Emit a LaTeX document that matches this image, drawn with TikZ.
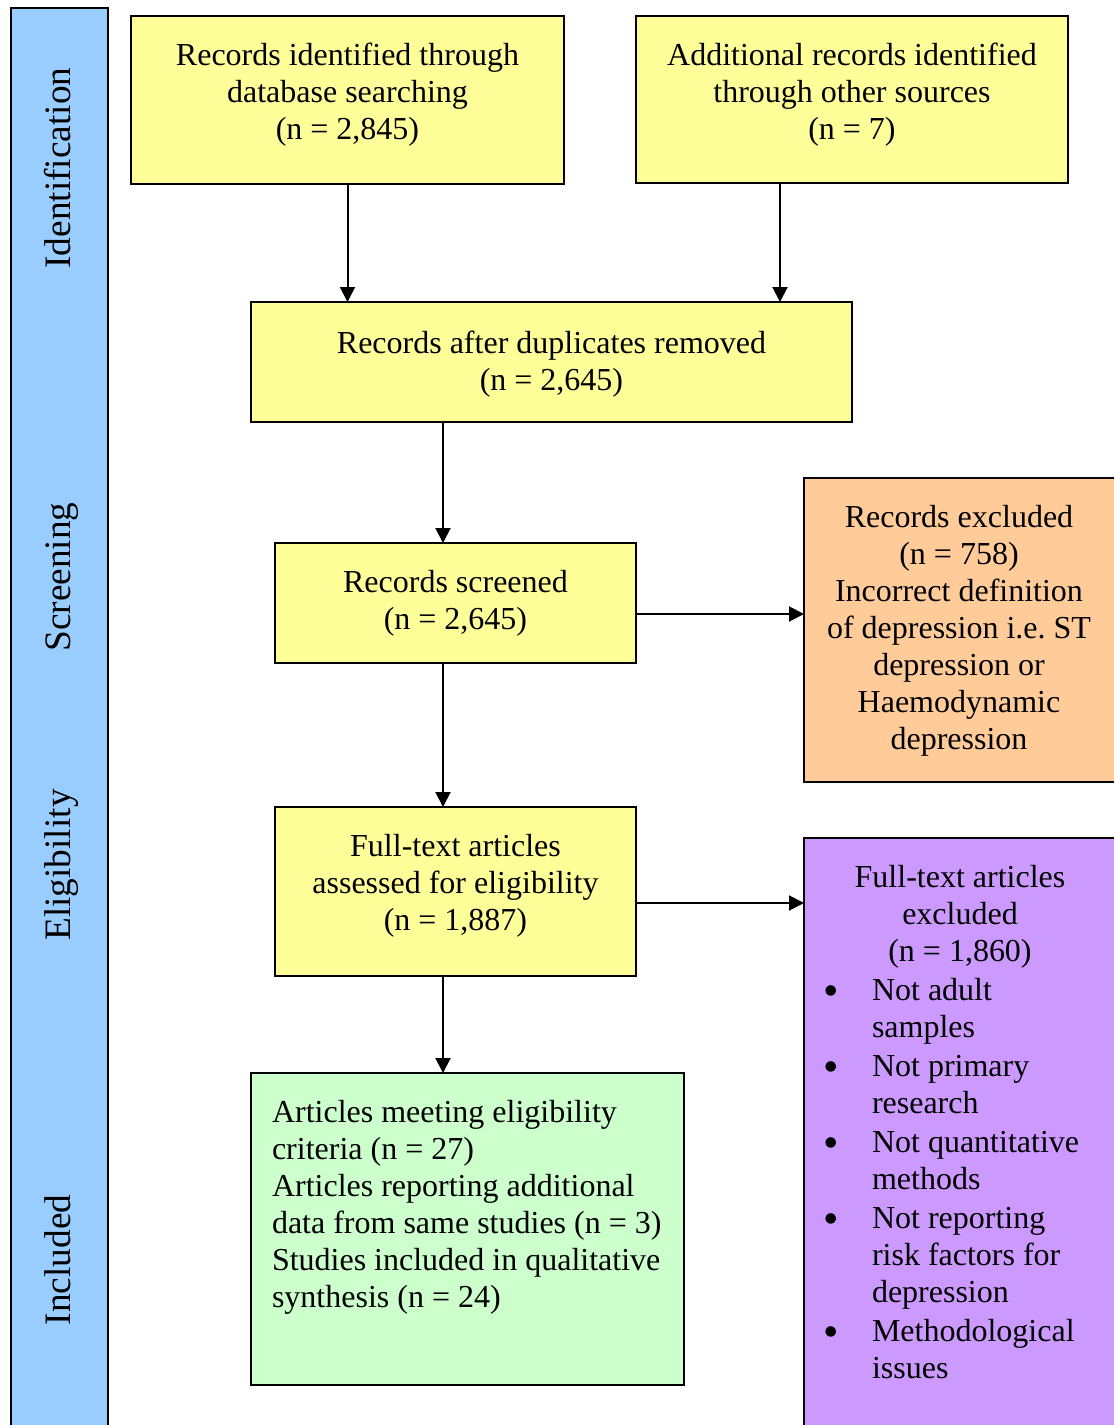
\documentclass[tikz,border=0pt]{standalone}
\usepackage{fontspec}
\setmainfont{Liberation Serif}
\frenchspacing
\usetikzlibrary{arrows.meta}
\definecolor{boxyellow}{HTML}{FFFF99}
\definecolor{boxorange}{HTML}{FFCC99}
\definecolor{boxpurple}{HTML}{CC99FF}
\definecolor{boxgreen}{HTML}{CCFFCC}
\definecolor{barblue}{HTML}{99CCFF}
\begin{document}
\begin{tikzpicture}[x=1pt,y=-1pt,
  box/.style={draw=black, line width=2pt, inner sep=0pt, outer sep=0pt, anchor=north west},
  txt/.style={inner sep=0pt, outer sep=0pt, font=\fontsize{32}{37}\selectfont},
  ctxt/.style={txt, anchor=base},
  ltxt/.style={txt, anchor=base west},
  bul/.style={inner sep=0pt, outer sep=0pt, font=\fontsize{44}{44}\selectfont},
  lbl/.style={inner sep=0pt, outer sep=0pt, font=\fontsize{37.3}{43}\selectfont, rotate=90, anchor=base},
  arr/.style={line width=2pt, -{Triangle[length=15pt,width=15pt]}}]
\useasboundingbox (0,0) rectangle (1114,1425);
\clip (0,0) rectangle (1114,1425);

% phase bar on the left
\node[box, fill=barblue, minimum width=97pt, minimum height=1440pt] (bar) at (11,8) {};
\node[lbl] (lid)  at (70,168)  {Identification};
\node[lbl] (lscr) at (70,577)  {Screening};
\node[lbl] (lel)  at (70,865)  {Eligibility};
\node[lbl] (linc) at (70,1260) {Included};

% flow boxes
\node[box, fill=boxyellow, minimum width=433pt, minimum height=168pt] (A) at (131,16) {};
\node[box, fill=boxyellow, minimum width=432pt, minimum height=167pt] (B) at (636,16) {};
\node[box, fill=boxyellow, minimum width=601pt, minimum height=120pt] (C) at (251,302) {};
\node[box, fill=boxyellow, minimum width=361pt, minimum height=120pt] (D) at (275,543) {};
\node[box, fill=boxorange, minimum width=330pt, minimum height=304pt] (E) at (804,478) {};
\node[box, fill=boxyellow, minimum width=361pt, minimum height=169pt] (F) at (275,807) {};
\node[box, fill=boxpurple, minimum width=330pt, minimum height=620pt] (G) at (804,838) {};
\node[box, fill=boxgreen,  minimum width=433pt, minimum height=312pt] (H) at (251,1073) {};

% box texts
\node[ctxt] (tA) at (347.5,65) {\parbox[t]{420pt}{\centering Records identified through\\database searching\\(n = 2,845)}};
\node[ctxt] (tB) at (852,65) {\parbox[t]{420pt}{\centering Additional records identified\\through other sources\\(n = 7)}};
\node[ctxt] (tC) at (551.5,353) {\parbox[t]{580pt}{\centering Records after duplicates removed\\(n = 2,645)}};
\node[ctxt] (tD) at (455.5,592) {\parbox[t]{340pt}{\centering Records screened\\(n = 2,645)}};
\node[ctxt] (tE) at (959,527) {\parbox[t]{300pt}{\centering Records excluded\\(n = 758)\\Incorrect definition\\of depression i.e. ST\\depression or\\Haemodynamic\\depression}};
\node[ctxt] (tF) at (455.5,856) {\parbox[t]{340pt}{\centering Full-text articles\\assessed for eligibility\\(n = 1,887)}};
\node[ctxt] (tG) at (960,887) {\parbox[t]{300pt}{\centering Full-text articles\\excluded\\(n = 1,860)}};
\node[ltxt] (tH) at (272,1122) {\parbox[t]{420pt}{\raggedright Articles meeting eligibility\\criteria (n = 27)\\Articles reporting additional\\data from same studies (n = 3)\\Studies included in qualitative\\synthesis (n = 24)}};

% exclusion reasons
\node[bul] (b1) at (831,996)  {•};
\node[bul] (b2) at (831,1072) {•};
\node[bul] (b3) at (831,1148) {•};
\node[bul] (b4) at (831,1224) {•};
\node[bul] (b5) at (831,1337) {•};
\node[ltxt] (g1) at (872,1000) {\parbox[t]{240pt}{\raggedright Not adult\\samples}};
\node[ltxt] (g2) at (872,1076) {\parbox[t]{240pt}{\raggedright Not primary\\research}};
\node[ltxt] (g3) at (872,1152) {\parbox[t]{240pt}{\raggedright Not quantitative\\methods}};
\node[ltxt] (g4) at (872,1228) {\parbox[t]{240pt}{\raggedright Not reporting\\risk factors for\\depression}};
\node[ltxt] (g5) at (872,1341) {\parbox[t]{240pt}{\raggedright Methodological\\issues}};

% connectors
\coordinate (xmain) at (443,0);
\coordinate (xside) at (780,0);
\coordinate (yscr) at (0,614);
\coordinate (yel) at (0,903);
\draw[arr] (A.south) -- (A.south |- C.north);
\draw[arr] (B.south -| xside) -- (C.north -| xside);
\draw[arr] (C.south -| xmain) -- (D.north -| xmain);
\draw[arr] (D.south -| xmain) -- (F.north -| xmain);
\draw[arr] (F.south -| xmain) -- (H.north -| xmain);
\draw[arr] (D.east |- yscr) -- (E.west |- yscr);
\draw[arr] (F.east |- yel) -- (G.west |- yel);
\end{tikzpicture}
\end{document}
